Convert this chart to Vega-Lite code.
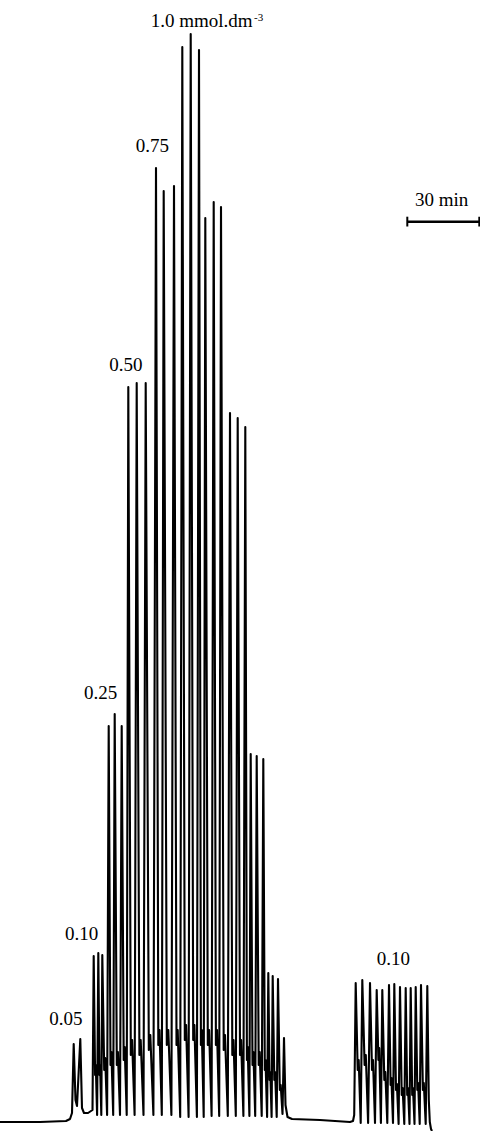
{
  "$schema": "https://vega.github.io/schema/vega-lite/v6.json",
  "width": 480,
  "height": 1131,
  "autosize": {"type": "none"},
  "padding": 0,
  "background": "white",
  "config": {"view": {"stroke": null}, "text": {"font": "Liberation Serif"}},
  "datasets": {
    "trace": [
      {"t": 0, "s": 9}, {"t": 1000, "s": 9}, {"t": 1650, "s": 10}, {"t": 1750, "s": 12}, {"t": 1800, "s": 18},
      {"t": 1842.5, "s": 87}, {"t": 1887.5, "s": 31}, {"t": 1925, "s": 25},
      {"t": 2007.5, "s": 92}, {"t": 2050, "s": 23}, {"t": 2100, "s": 18}, {"t": 2200, "s": 18}, {"t": 2275, "s": 20}, {"t": 2312.5, "s": 21},
      {"t": 2342.5, "s": 175}, {"t": 2377.5, "s": 56}, {"t": 2395, "s": 66}, {"t": 2427.5, "s": 16},
      {"t": 2457.5, "s": 178}, {"t": 2487.5, "s": 56}, {"t": 2502.5, "s": 66}, {"t": 2532.5, "s": 16},
      {"t": 2557.5, "s": 176}, {"t": 2605, "s": 61}, {"t": 2630, "s": 73}, {"t": 2677.5, "s": 16},
      {"t": 2717.5, "s": 405}, {"t": 2762.5, "s": 66}, {"t": 2785, "s": 79}, {"t": 2830, "s": 16},
      {"t": 2867.5, "s": 417}, {"t": 2920, "s": 66}, {"t": 2947.5, "s": 79}, {"t": 3000, "s": 16},
      {"t": 3042.5, "s": 405}, {"t": 3092.5, "s": 71}, {"t": 3117.5, "s": 84}, {"t": 3167.5, "s": 16},
      {"t": 3207.5, "s": 744}, {"t": 3270, "s": 76}, {"t": 3302.5, "s": 91}, {"t": 3365, "s": 16},
      {"t": 3417.5, "s": 748}, {"t": 3485, "s": 76}, {"t": 3517.5, "s": 91}, {"t": 3587.5, "s": 16},
      {"t": 3642.5, "s": 748}, {"t": 3720, "s": 81}, {"t": 3757.5, "s": 96}, {"t": 3835, "s": 16},
      {"t": 3900, "s": 963}, {"t": 3957.5, "s": 86}, {"t": 3987.5, "s": 101}, {"t": 4045, "s": 16},
      {"t": 4092.5, "s": 940}, {"t": 4170, "s": 86}, {"t": 4207.5, "s": 101}, {"t": 4285, "s": 16},
      {"t": 4350, "s": 945}, {"t": 4412.5, "s": 86}, {"t": 4442.5, "s": 101}, {"t": 4505, "s": 14},
      {"t": 4557.5, "s": 1084}, {"t": 4620, "s": 91}, {"t": 4652.5, "s": 106}, {"t": 4715, "s": 14},
      {"t": 4767.5, "s": 1097}, {"t": 4830, "s": 91}, {"t": 4860, "s": 106}, {"t": 4922.5, "s": 14},
      {"t": 4975, "s": 1081}, {"t": 5022.5, "s": 86}, {"t": 5045, "s": 101}, {"t": 5092.5, "s": 14},
      {"t": 5132.5, "s": 913}, {"t": 5195, "s": 86}, {"t": 5227.5, "s": 101}, {"t": 5290, "s": 15},
      {"t": 5342.5, "s": 929}, {"t": 5397.5, "s": 86}, {"t": 5425, "s": 101}, {"t": 5480, "s": 15},
      {"t": 5525, "s": 924}, {"t": 5592.5, "s": 81}, {"t": 5625, "s": 96}, {"t": 5695, "s": 15},
      {"t": 5750, "s": 718}, {"t": 5807.5, "s": 76}, {"t": 5837.5, "s": 91}, {"t": 5895, "s": 15},
      {"t": 5942.5, "s": 713}, {"t": 6000, "s": 76}, {"t": 6027.5, "s": 91}, {"t": 6085, "s": 15},
      {"t": 6132.5, "s": 704}, {"t": 6172.5, "s": 71}, {"t": 6192.5, "s": 84}, {"t": 6235, "s": 15},
      {"t": 6267.5, "s": 377}, {"t": 6312.5, "s": 66}, {"t": 6335, "s": 79}, {"t": 6380, "s": 15},
      {"t": 6417.5, "s": 375}, {"t": 6467.5, "s": 66}, {"t": 6492.5, "s": 79}, {"t": 6542.5, "s": 15},
      {"t": 6582.5, "s": 372}, {"t": 6620, "s": 61}, {"t": 6637.5, "s": 71}, {"t": 6677.5, "s": 14},
      {"t": 6707.5, "s": 158}, {"t": 6740, "s": 51}, {"t": 6757.5, "s": 59}, {"t": 6790, "s": 14},
      {"t": 6817.5, "s": 155}, {"t": 6857.5, "s": 51}, {"t": 6877.5, "s": 59}, {"t": 6917.5, "s": 14},
      {"t": 6950, "s": 152}, {"t": 6995, "s": 41}, {"t": 7017.5, "s": 46}, {"t": 7062.5, "s": 17},
      {"t": 7100, "s": 93}, {"t": 7137.5, "s": 26}, {"t": 7187.5, "s": 14}, {"t": 7300, "s": 12},
      {"t": 8000, "s": 11}, {"t": 8750, "s": 9}, {"t": 8825, "s": 10}, {"t": 8855, "s": 16},
      {"t": 8892.5, "s": 148}, {"t": 8942.5, "s": 61}, {"t": 8967.5, "s": 71}, {"t": 9017.5, "s": 8},
      {"t": 9057.5, "s": 151}, {"t": 9115, "s": 66}, {"t": 9145, "s": 76}, {"t": 9202.5, "s": 8},
      {"t": 9250, "s": 148}, {"t": 9300, "s": 61}, {"t": 9325, "s": 71}, {"t": 9375, "s": 8},
      {"t": 9417.5, "s": 141}, {"t": 9460, "s": 71}, {"t": 9480, "s": 83}, {"t": 9522.5, "s": 8},
      {"t": 9557.5, "s": 141}, {"t": 9607.5, "s": 51}, {"t": 9632.5, "s": 59}, {"t": 9682.5, "s": 8},
      {"t": 9725, "s": 146}, {"t": 9765, "s": 46}, {"t": 9785, "s": 53}, {"t": 9825, "s": 8},
      {"t": 9857.5, "s": 147}, {"t": 9900, "s": 41}, {"t": 9922.5, "s": 47}, {"t": 9965, "s": 7},
      {"t": 10000, "s": 144}, {"t": 10042.5, "s": 36}, {"t": 10065, "s": 43}, {"t": 10107.5, "s": 7},
      {"t": 10142.5, "s": 143}, {"t": 10180, "s": 36}, {"t": 10200, "s": 43}, {"t": 10237.5, "s": 7},
      {"t": 10267.5, "s": 143}, {"t": 10305, "s": 36}, {"t": 10325, "s": 43}, {"t": 10362.5, "s": 7},
      {"t": 10392.5, "s": 144}, {"t": 10432.5, "s": 41}, {"t": 10452.5, "s": 48}, {"t": 10492.5, "s": 7},
      {"t": 10525, "s": 146}, {"t": 10572.5, "s": 41}, {"t": 10595, "s": 48}, {"t": 10642.5, "s": 7},
      {"t": 10682.5, "s": 145}, {"t": 10720, "s": 31}, {"t": 10745, "s": 9}, {"t": 10775, "s": 2}, {"t": 10800, "s": 0}
    ],
    "labels": [
      {"t": 3767.5, "s": 1104.3, "label": "1.0 mmol.dm"},
      {"t": 3392.5, "s": 979.3, "label": "0.75"},
      {"t": 2732.5, "s": 760.3, "label": "0.50"},
      {"t": 2100, "s": 431.7, "label": "0.25"},
      {"t": 1625, "s": 191, "label": "0.10"},
      {"t": 1232.5, "s": 106, "label": "0.05"},
      {"t": 9417.5, "s": 166, "label": "0.10"},
      {"t": 10375, "s": 925, "label": "30 min"}
    ],
    "sup": [
      {"t": 6350, "s": 1110.3, "label": "-3"}
    ],
    "bar": [
      {"t": 10182.5, "t2": 11982.5, "s": 909.3}
    ],
    "ticks": [
      {"t": 10182.5, "s": 904.5, "s2": 914.3},
      {"t": 11982.5, "s": 904.5, "s2": 914.3}
    ]
  },
  "layer": [
    {
      "data": {"name": "trace"},
      "mark": {"type": "line", "color": "black", "strokeWidth": 2.1, "strokeJoin": "round", "interpolate": "linear"},
      "encoding": {
        "x": {"field": "t", "type": "quantitative", "scale": {"domain": [0, 12000], "nice": false, "zero": false}, "axis": null},
        "y": {"field": "s", "type": "quantitative", "scale": {"domain": [0, 1131], "nice": false, "zero": false}, "axis": null}
      }
    },
    {
      "data": {"name": "labels"},
      "mark": {"type": "text", "align": "left", "baseline": "alphabetic", "fontSize": 19, "color": "black"},
      "encoding": {
        "x": {"field": "t", "type": "quantitative"},
        "y": {"field": "s", "type": "quantitative"},
        "text": {"field": "label"}
      }
    },
    {
      "data": {"name": "sup"},
      "mark": {"type": "text", "align": "left", "baseline": "alphabetic", "fontSize": 11, "color": "black"},
      "encoding": {
        "x": {"field": "t", "type": "quantitative"},
        "y": {"field": "s", "type": "quantitative"},
        "text": {"field": "label"}
      }
    },
    {
      "data": {"name": "bar"},
      "mark": {"type": "rule", "color": "black", "strokeWidth": 2.6},
      "encoding": {
        "x": {"field": "t", "type": "quantitative"},
        "x2": {"field": "t2"},
        "y": {"field": "s", "type": "quantitative"}
      }
    },
    {
      "data": {"name": "ticks"},
      "mark": {"type": "rule", "color": "black", "strokeWidth": 2},
      "encoding": {
        "x": {"field": "t", "type": "quantitative"},
        "y": {"field": "s", "type": "quantitative"},
        "y2": {"field": "s2"}
      }
    }
  ]
}
